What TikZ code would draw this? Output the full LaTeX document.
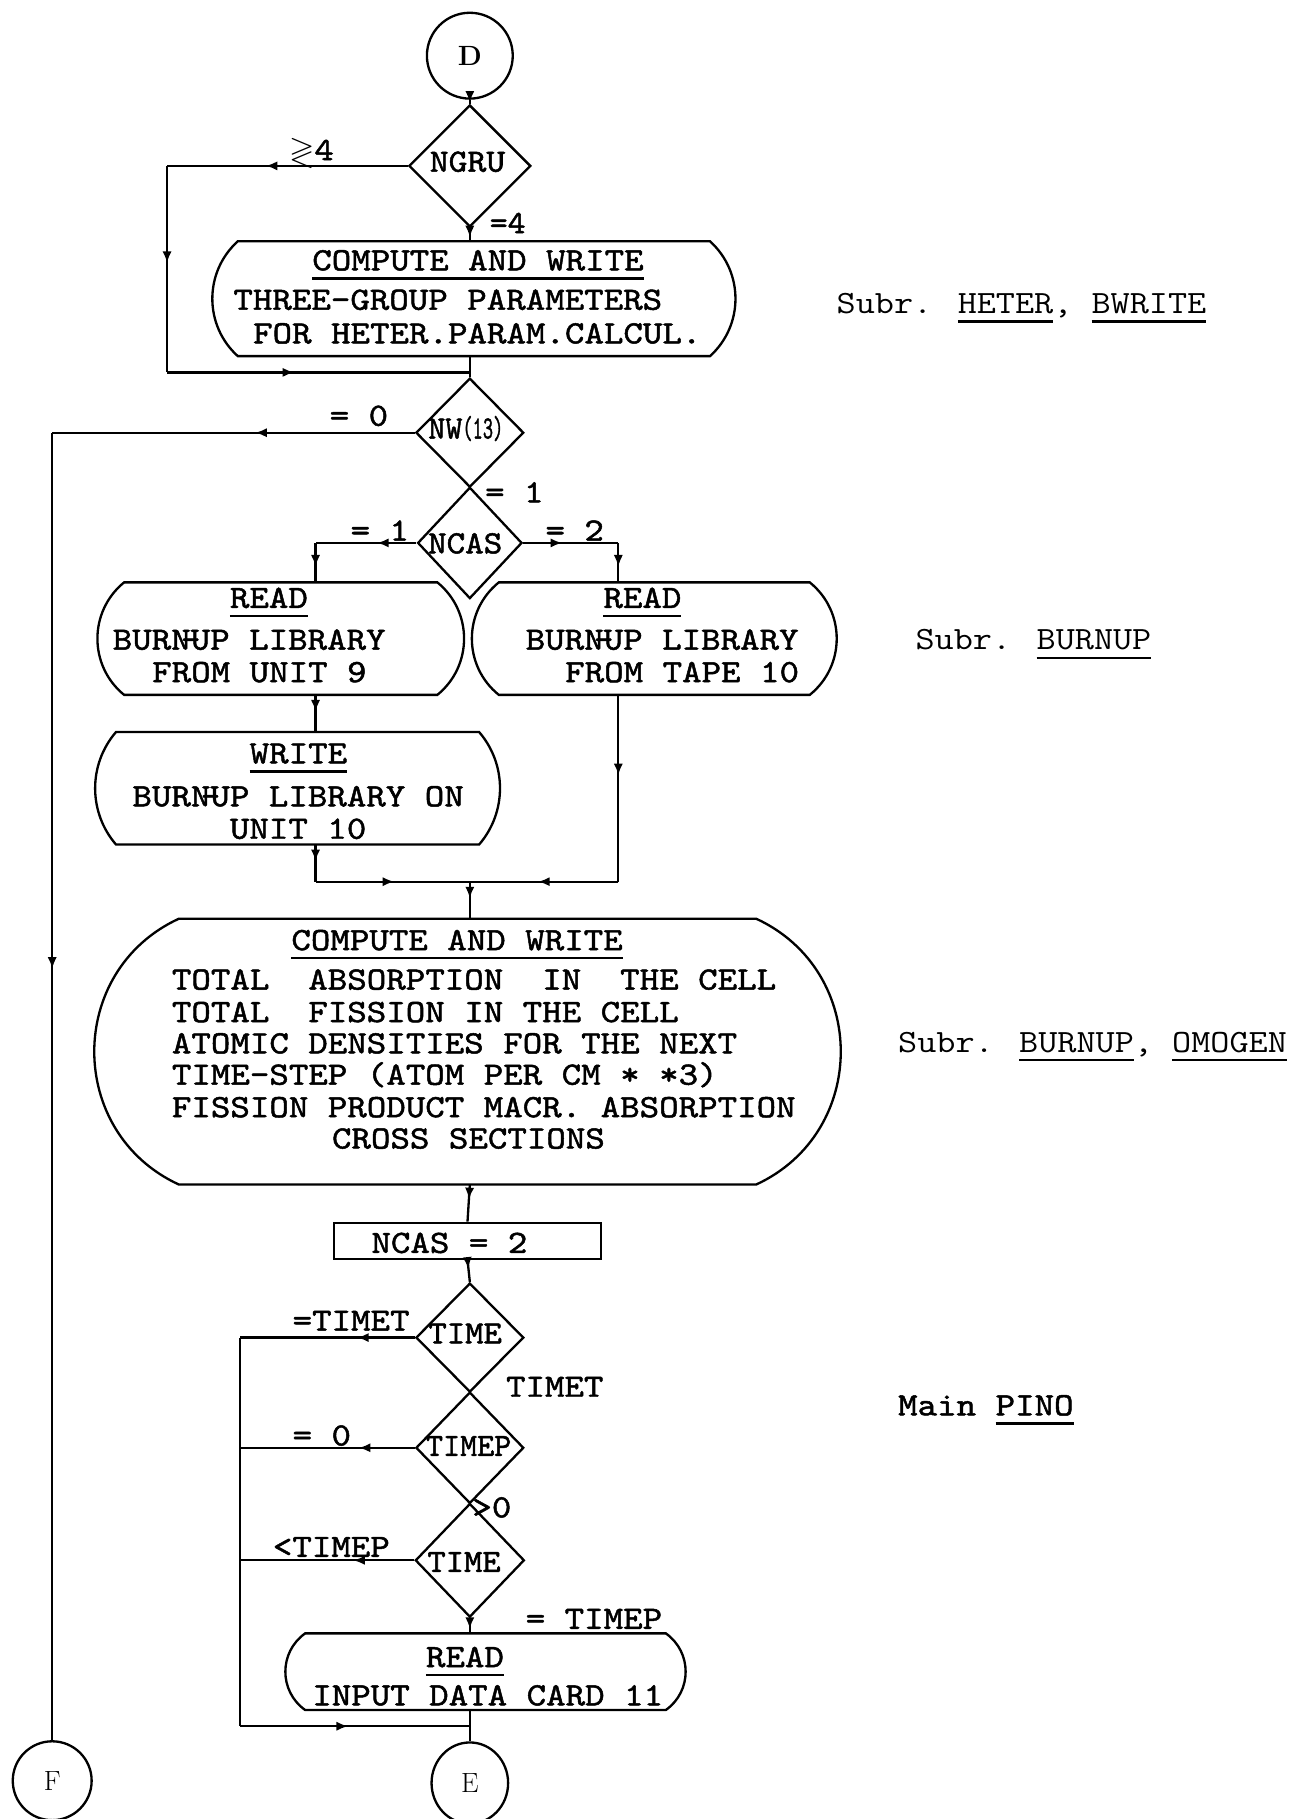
\documentclass[tikz,border=0pt]{standalone}
\usepackage{amssymb}
\usepackage{graphicx}
\usetikzlibrary{shapes.geometric,fit,decorations.markings,arrows.meta}
\newcommand\tfs[1]{\ttfamily\fontsize{#1}{#1}\selectfont}
\suppressfontnotfounderror=1
\font\twf="[lmmono10-regular.otf]:embolden=1.5;extend=1.143" at 28pt
\font\twg="[lmmono10-regular.otf]:embolden=1.5" at 28pt
\ifx\twf\nullfont
  \newcommand\tw{\tfs{28}}
  \newcommand\twd{\tfs{28}}
  \newcommand\sx[1]{\scalebox{1.143}[1]{#1}}
\else
  \newcommand\tw{\fontsize{28}{28}\selectfont\twf}
  \newcommand\twd{\fontsize{28}{28}\selectfont\twg}
  \newcommand\sx[1]{#1}
\fi
\newcommand\sxr[1]{\scalebox{1.143}[1]{#1}}
\newcommand\uln[1]{\leavevmode\setbox0=\hbox{#1}\rlap{\rule[-8pt]{\wd0}{2pt}}\box0}
\newcommand\stadium[4]{\draw[ln] ([xshift=#2pt]#1.north west) -- ([xshift=-#2pt]#1.north east) .. controls +(#3,-#4) and +(#3,#4) .. ([xshift=-#2pt]#1.south east) -- ([xshift=#2pt]#1.south west) .. controls +(-#3,#4) and +(-#3,-#4) .. ([xshift=#2pt]#1.north west) -- cycle;}
\newcommand\bu{BURN\makebox[0pt]{-}UP}
\begin{document}
\begin{tikzpicture}[x=1pt,y=1pt,
  ln/.style={line width=2pt},
  tt/.style={font=\tw, inner sep=0pt, anchor=base west},
  ttc/.style={font=\twd, inner sep=0pt, anchor=base},
  side/.style={font=\tfs{28}, inner sep=0pt, anchor=base west},
  arr/.style={postaction={decorate,decoration={markings,mark=at position #1 with {\arrow{Latex[length=10pt,width=8pt]}}}}},
  dia/.style={diamond, draw, ln, inner sep=0pt},
  shp/.style={draw=none, inner sep=0pt, outer sep=0pt}]
\useasboundingbox (0,0) rectangle (1131,-1568);

% ---- shapes
\node[circle, draw, ln, minimum size=74pt, inner sep=0pt, font=\rmfamily\bfseries\fontsize{24}{24}\selectfont] (D) at (405,-48) {D};
\node[dia, minimum width=105pt, minimum height=105pt] (ngru) at (405,-143) {};
\node[shp, fit={(183,-208) (634,-307)}] (b1) {};
\stadium{b1}{22}{29.3}{26.4}
\node[dia, minimum width=93pt, minimum height=94pt] (nw) at (405,-373) {};
\node[dia, minimum width=90pt, minimum height=96pt] (ncas) at (405,-468) {};
\node[shp, fit={(84,-502) (400,-599)}] (readL) {};
\stadium{readL}{23}{30.7}{25}
\node[shp, fit={(406,-502) (722,-599)}] (readR) {};
\stadium{readR}{24}{31}{25}
\node[shp, fit={(82,-631) (431,-728)}] (write) {};
\stadium{write}{18}{24}{27.8}
\node[shp, fit={(81,-792) (725,-1021)}] (big) {};
\stadium{big}{73}{97}{45}
\node[draw, ln, minimum width=230pt, minimum height=31pt, inner sep=0pt] (nc2) at (403,-1069.5) {};
\node[dia, minimum width=93pt, minimum height=94pt] (time1) at (405,-1153) {};
\node[dia, minimum width=93pt, minimum height=96pt] (timep) at (405,-1248) {};
\node[dia, minimum width=94pt, minimum height=98pt] (time2) at (405,-1345) {};
\node[shp, fit={(246,-1408) (591,-1474)}] (readB) {};
\stadium{readB}{17}{22.7}{16.2}
\node[ellipse, draw, ln, minimum width=66pt, minimum height=70pt, inner sep=0pt, font=\rmfamily\fontsize{24}{24}\selectfont] (E) at (405,-1537) {E};
\node[circle, draw, ln, minimum size=68pt, inner sep=0pt, font=\rmfamily\fontsize{24}{24}\selectfont] (F) at (45,-1535) {F};

% ---- bend points
\coordinate (c1) at (144,-143);
\coordinate (c2) at (144,-321);
\coordinate (j1) at (405,-321);
\coordinate (c3) at (45,-373);
\coordinate (c4) at (272,-468);
\coordinate (c5) at (533,-468);
\coordinate (c6) at (272,-760);
\coordinate (c7) at (533,-760);
\coordinate (j2) at (405,-760);
\coordinate (c8) at (207,-1153);
\coordinate (c11) at (207,-1488);
\coordinate (j3) at (405,-1488);

% ---- connectors
\draw[ln, arr=0.7] (D.south) -- (ngru.north);
\draw[ln, arr=0.59] (ngru.west) -- (c1);
\draw[ln, arr=0.47] (c1) -- (c2);
\draw[ln, arr=0.42] (c2) -- (j1);
\draw[ln, arr=0.7] (ngru.south) -- (ngru.south |- b1.north);
\draw[ln] (b1.south -| j1) -- (j1) -- (nw.north);
\draw[ln, arr=0.44] (nw.west) -- (c3);
\draw[ln, arr=0.41] (c3) -- (F.north);
\draw[ln, arr=0.39] (ncas.west) -- (c4);
\draw[ln, arr=0.6] (c4) -- (c4 |- readL.north);
\draw[ln, arr=0.41] (ncas.east) -- (c5);
\draw[ln, arr=0.6] (c5) -- (c5 |- readR.north);
\draw[ln, arr=0.45] (c4 |- readL.south) -- (c4 |- write.north);
\draw[ln, arr=0.45] (c4 |- write.south) -- (c6);
\draw[ln, arr=0.51] (c6) -- (j2);
\draw[ln, arr=0.43] (c5 |- readR.south) -- (c7);
\draw[ln, arr=0.54] (c7) -- (j2);
\draw[ln, arr=0.45] (j2) -- (j2 |- big.north);
\draw[ln, arr=0.4] (j2 |- big.south) -- (nc2.north);
\draw[ln, arr=0.4] (nc2.south) -- (time1.north);
\draw[ln, arr=0.33] (time1.west) -- (c8);
\draw[ln, arr=0.32] (timep.west) -- (timep.west -| c8);
\draw[ln, arr=0.35] (time2.west) -- (time2.west -| c8);
\draw[ln, arr=0.7] (time2.south) -- (time2.south |- readB.north);
\draw[ln] (c8) -- (c11);
\draw[ln, arr=0.47] (c11) -- (j3);
\draw[ln] (j3 |- readB.south) -- (j3) -- (E.north);

% ---- texts in boxes
\node[tt] (t1a) at (269,-233) {\sx{\uln{COMPUTE AND WRITE}}};
\node[tt] (t1b) at (201,-267) {\sx{THREE-GROUP PARAMETERS}};
\node[tt] (t1c) at (218,-296) {\sx{FOR HETER.PARAM.CALCUL.}};

\node[tt] (tla) at (198,-524) {\sx{\uln{READ}}};
\node[tt] (tlb) at (97,-560) {\sx{\bu{} LIBRARY}};
\node[tt] (tlc) at (131,-588) {\sx{FROM UNIT 9}};

\node[tt] (tra) at (520,-524) {\sx{\uln{READ}}};
\node[tt] (trb) at (453,-560) {\sx{\bu{} LIBRARY}};
\node[tt] (trc) at (487,-588) {\sx{FROM TAPE 10}};

\node[tt] (twa) at (215,-658) {\sx{\uln{WRITE}}};
\node[tt] (twb) at (114,-695) {\sx{\bu{} LIBRARY ON}};
\node[tt] (twc) at (198,-723) {\sx{UNIT 10}};

\node[tt] (tba) at (251,-819) {\sx{\uln{COMPUTE AND WRITE}}};
\node[tt] (tbb) at (148,-853) {\sx{TOTAL~ ABSORPTION~ IN~ THE CELL}};
\node[tt] (tbc) at (148,-881) {\sx{TOTAL~ FISSION IN THE CELL}};
\node[tt] (tbd) at (148,-908) {\sx{ATOMIC DENSITIES FOR THE NEXT}};
\node[tt] (tbe) at (148,-935) {\sx{TIME-STEP \smash{(}ATOM PER CM * *3\smash{)}}};
\node[tt] (tbf) at (148,-963) {\sx{FISSION PRODUCT MACR. ABSORPTION}};
\node[tt] (tbg) at (286,-990) {\sx{CROSS SECTIONS}};

\node[tt] (tnc2) at (320,-1080) {\sx{NCAS = 2}};

\node[tt] (tda) at (367,-1437) {\sx{\uln{READ}}};
\node[tt] (tdb) at (269,-1470) {\sx{INPUT DATA CARD 11}};

% ---- texts in decisions
\node[ttc] (tngru) at (403,-148) {\scalebox{1.105}[1]{NGRU}};
\node[ttc, anchor=base west] (tnw) at (369,-378) {NW\scalebox{0.6}[1]{(13)}};
\node[ttc] (tncas) at (401,-477) {\scalebox{1.088}[1]{NCAS}};
\node[ttc] (ttime1) at (401,-1158) {\scalebox{1.075}[1]{TIME}};
\node[ttc] (ttimep) at (404,-1255) {TIMEP};
\node[ttc] (ttime2) at (400,-1355) {\scalebox{1.075}[1]{TIME}};

% ---- branch labels
\node[tt] (lgl) at (249,-138) {\sx{$\gtrless$4}};
\node[ttc, anchor=base west] (leq4) at (422,-201) {\scalebox{1.05}[1]{=4}};
\node[tt] (lnw0) at (284,-367) {\sx{= 0}};
\node[tt] (lnw1) at (418,-433) {\sx{= 1}};
\node[tt] (lnc1) at (302,-466) {\sx{= 1}};
\node[tt] (lnc2) at (470,-466) {\sx{= 2}};
\node[tt] (lt1) at (252,-1147) {\sx{=TIMET}};
\node[tt] (lt2) at (436,-1204) {\sx{TIMET}};
\node[tt] (lt3) at (252,-1246) {\sx{= 0}};
\node[tt] (lt4) at (407,-1308) {\sx{>0}};
\node[tt] (lt5) at (235,-1342) {\sx{<TIMEP}};
\node[tt] (lt6) at (453,-1404) {\sx{= TIMEP}};

% ---- side notes
\node[side] (s1) at (721,-270) {\sxr{Subr. \uln{HETER}, \uln{BWRITE}}};
\node[side] (s2) at (789,-560) {\sxr{Subr. \uln{BURNUP}}};
\node[side] (s3) at (774,-907) {\sxr{Subr. \uln{BURNUP}, \uln{OMOGEN}}};
\node[tt] (s4) at (774,-1220) {\sx{Main \uln{PINO}}};
\end{tikzpicture}
\end{document}
